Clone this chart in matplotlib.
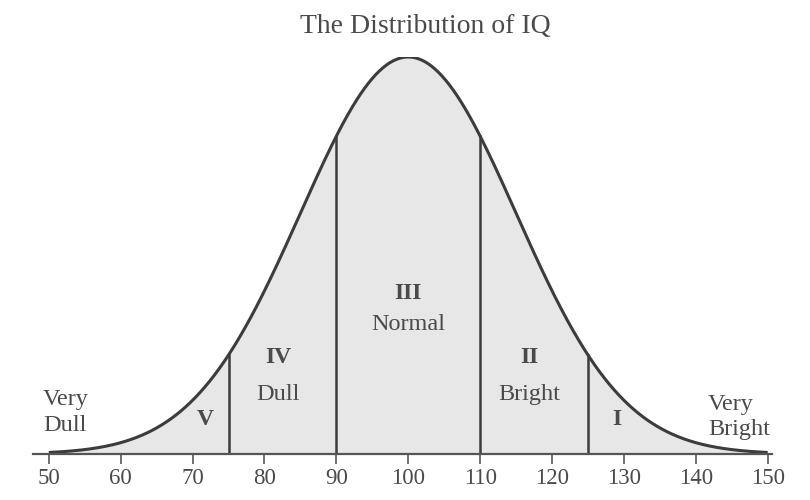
import numpy as np
import matplotlib
matplotlib.use("Agg")
import matplotlib.pyplot as plt

plt.rcParams['font.family'] = ['Liberation Serif', 'DejaVu Serif']

# IQ distribution parameters
iq_mean = 100
iq_sd = 15
iq_min, iq_max = 50, 150
cuts = [75, 90, 110, 125]
tick_vals = [50, 60, 70, 80, 90, 100, 110, 120, 130, 140, 150]
numerals = ['V', 'IV', 'III', 'II', 'I']
numeral_x = [71.7, 81.9, 100, 116.9, 129.0]
numeral_y = [0.086, 0.244, 0.405, 0.244, 0.086]
names = ['Dull', 'Normal', 'Bright']
names_x = [81.9, 100, 116.9]
names_y = [0.149, 0.325, 0.149]

line_c = '#3c3c3c'
text_c = '#4a4a4a'
fill_c = '#e7e7e7'

x = np.linspace(iq_min, iq_max, 600)
pdf = np.exp(-0.5 * ((x - iq_mean) / iq_sd) ** 2) / (iq_sd * np.sqrt(2 * np.pi))
peak = pdf.max()
y = pdf / peak

fig = plt.figure(figsize=(8.1, 5.0), dpi=100)
ax = fig.add_axes([33 / 810, 46 / 500, 739 / 810, 397 / 500])

ax.fill_between(x, 0, y, color=fill_c, lw=0)
ax.plot(x, y, color=line_c, lw=2.2, solid_capstyle='butt')
for c in cuts:
    h = np.exp(-0.5 * ((c - iq_mean) / iq_sd) ** 2)
    ax.plot([c, c], [0, h], color=line_c, lw=1.8)

ax.set_xlim(47.8, 150.6)
ax.set_ylim(0, 1.0)
for s in ['top', 'right', 'left']:
    ax.spines[s].set_visible(False)
ax.spines['bottom'].set_color('#555555')
ax.spines['bottom'].set_linewidth(1.6)
ax.set_yticks([])
ax.set_xticks(tick_vals)
ax.tick_params(axis='x', direction='out', length=7, width=1.2, color='#555555',
               labelsize=16.5, labelcolor=text_c, pad=3)

for lab, lx, ly in zip(numerals, numeral_x, numeral_y):
    ax.text(lx, ly, lab, ha='center', va='center',
            fontsize=17, fontweight='bold', color=text_c)
for lab, lx, ly in zip(names, names_x, names_y):
    ax.text(lx, ly, lab, ha='center', va='center', fontsize=17.5, color=text_c)

ax.text(49.2, 0.105, 'Very\nDull', ha='left', va='center', fontsize=17.5,
        color=text_c, linespacing=1.3)
ax.text(141.7, 0.093, 'Very\nBright', ha='left', va='center', fontsize=17.5,
        color=text_c, linespacing=1.3)

fig.text(0.525, 0.947, 'The Distribution of IQ', ha='center', va='center',
         fontsize=20, color=text_c)

fig.savefig('out.png', dpi=100, facecolor='white')
